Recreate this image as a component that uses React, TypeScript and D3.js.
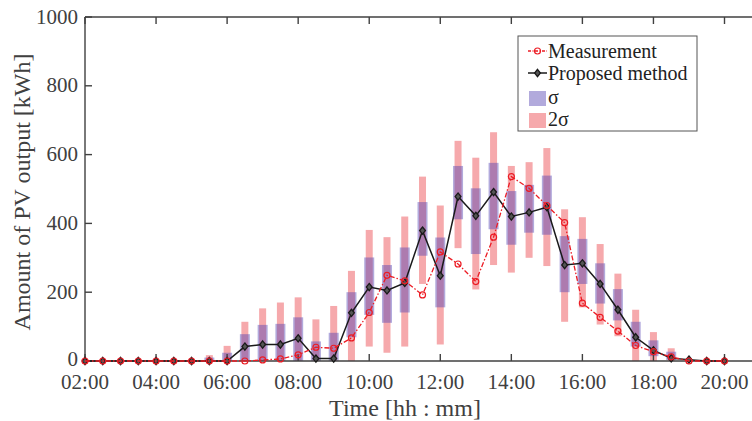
import React from "react";
import * as d3 from "d3";

const times: string[] = [
  "02:00","02:30","03:00","03:30","04:00","04:30","05:00","05:30","06:00","06:30",
  "07:00","07:30","08:00","08:30","09:00","09:30","10:00","10:30","11:00","11:30",
  "12:00","12:30","13:00","13:30","14:00","14:30","15:00","15:30","16:00","16:30",
  "17:00","17:30","18:00","18:30","19:00","19:30","20:00",
];

const measurement: number[] = [
  0,0,0,0,0,0,0,0,0,0,
  3,6,18,40,37,67,141,249,233,192,
  317,282,231,360,536,502,452,402,168,127,
  87,45,27,12,0,0,0,
];

const proposed: number[] = [
  0,0,0,0,0,0,0,0,0,42,
  48,48,66,7,7,140,215,205,227,379,
  248,478,422,491,420,432,447,279,284,224,
  149,69,31,8,4,0,0,
];

const sigmaLow: (number | null)[] = [
  null,null,null,null,null,null,null,0,0,0,
  0,0,0,0,0,69,134,111,141,306,
  156,412,311,383,338,373,367,200,224,167,
  118,42,14,3,null,null,null,
];
const sigmaHigh: (number | null)[] = [
  null,null,null,null,null,null,null,10,24,78,
  105,108,127,57,82,200,301,279,330,462,
  359,567,502,576,494,512,539,363,355,284,
  209,114,60,27,null,null,null,
];
const sigma2Low: (number | null)[] = [
  null,null,null,null,null,null,null,0,0,0,
  0,0,0,0,0,0,42,24,42,224,
  48,328,208,279,257,300,276,114,156,106,
  72,0,0,0,null,null,null,
];
const sigma2High: (number | null)[] = [
  null,null,null,null,null,null,null,17,44,114,
  153,170,185,121,160,262,381,360,420,536,
  452,640,591,665,567,578,619,441,418,340,
  254,149,84,37,null,null,null,
];

const xTickLabels: string[] = ["02:00","04:00","06:00","08:00","10:00","12:00","14:00","16:00","18:00","20:00"];
const yTicks: number[] = [0, 200, 400, 600, 800, 1000];

const toHours = (t: string) => {
  const [h, m] = t.split(":").map(Number);
  return h + m / 60;
};

export default function App() {
  const W = 752, H = 421;
  const x0 = 85, y0 = 17, yb = 361;
  const x = d3.scaleLinear().domain([2, 20]).range([x0, 724.5]);
  const y = d3.scaleLinear().domain([0, 1000]).range([yb, y0]);
  const axisColor = "#404040";
  const red = "#ec1c24";
  const font = "'Liberation Serif', 'Times New Roman', serif";

  const pts = times.map((t, i) => ({ h: toHours(t), m: measurement[i], p: proposed[i] }));
  const line = d3.line<{ h: number; v: number }>().x((d) => x(d.h)).y((d) => y(d.v));
  const mLine = line(pts.map((d) => ({ h: d.h, v: d.m }))) || "";
  const pLine = line(pts.map((d) => ({ h: d.h, v: d.p }))) || "";

  const diamond = (cx: number, cy: number, r: number) =>
    `M${cx},${cy - r}L${cx + r * 0.8},${cy}L${cx},${cy + r}L${cx - r * 0.8},${cy}Z`;

  const wS = 10, w2 = 7;

  return (
    <div>
      <style>{`body{margin:0;background:#fff}`}</style>
      <svg width={W} height={H} style={{ display: "block" }} fontFamily={font}>
        <rect x={0} y={0} width={W} height={H} fill="#fff" />
        {times.map((t, i) =>
          sigma2Low[i] !== null && sigma2High[i] !== null ? (
            <rect key={"s2" + i} x={x(toHours(t)) - w2 / 2} width={w2}
              y={y(sigma2High[i] as number)} height={y(sigma2Low[i] as number) - y(sigma2High[i] as number)}
              fill="#f6a9ac" />
          ) : null
        )}
        {times.map((t, i) =>
          sigmaLow[i] !== null && sigmaHigh[i] !== null ? (
            <rect key={"s1" + i} x={x(toHours(t)) - wS / 2} width={wS}
              y={y(sigmaHigh[i] as number)} height={y(sigmaLow[i] as number) - y(sigmaHigh[i] as number)}
              fill="rgb(88,70,178)" fillOpacity={0.46} />
          ) : null
        )}
        <line x1={x0} x2={W + 5} y1={yb} y2={yb} stroke={axisColor} strokeWidth={1.4} />
        <line x1={x0} x2={W + 5} y1={y0} y2={y0} stroke={axisColor} strokeWidth={1.4} />
        <line x1={x0} x2={x0} y1={y0} y2={yb} stroke={axisColor} strokeWidth={1.4} />
        {xTickLabels.map((t) => {
          const xx = x(toHours(t));
          return (
            <g key={"xt" + t}>
              <line x1={xx} x2={xx} y1={yb} y2={yb - 7} stroke={axisColor} strokeWidth={1.4} />
              <line x1={xx} x2={xx} y1={y0} y2={y0 + 7} stroke={axisColor} strokeWidth={1.4} />
              <text x={xx} y={389} textAnchor="middle" fontSize={21} fill={axisColor}>{t}</text>
            </g>
          );
        })}
        {yTicks.map((v) => (
          <g key={"yt" + v}>
            <line x1={x0} x2={x0 + 7} y1={y(v)} y2={y(v)} stroke={axisColor} strokeWidth={1.4} />
            <text x={78} y={y(v) + (v === 0 ? 4.5 : 6.5)} textAnchor="end" fontSize={21} fill={axisColor}>{v}</text>
          </g>
        ))}
        <text x={405} y={416} textAnchor="middle" fontSize={24} fill={axisColor}>Time [hh : mm]</text>
        <text transform={`translate(30,${(y0 + yb) / 2 + 3}) rotate(-90)`} textAnchor="middle" fontSize={24} fill={axisColor}>
          Amount of PV output [kWh]
        </text>
        <path d={pLine} fill="none" stroke="#1a1a1a" strokeWidth={1.5} />
        {pts.map((d, i) => (
          <path key={"pd" + i} d={diamond(x(d.h), y(d.p), 3.6)} fill="#555" stroke="#1a1a1a" strokeWidth={1.3} />
        ))}
        <path d={mLine} fill="none" stroke={red} strokeWidth={1.3} strokeDasharray="5,2,1.5,2" />
        {pts.map((d, i) => (
          <circle key={"mc" + i} cx={x(d.h)} cy={y(d.m)} r={3} fill="none" stroke={red} strokeWidth={1.2} />
        ))}
        <rect x={518} y={36} width={179} height={95} fill="#fff" stroke="#555" strokeWidth={1} />
        <line x1={528} x2={547} y1={51} y2={51} stroke={red} strokeWidth={1.3} strokeDasharray="3,1.5,1,1.5" />
        <circle cx={537.5} cy={51} r={3} fill="none" stroke={red} strokeWidth={1.2} />
        <text x={548} y={57.5} fontSize={20} fill="#222">Measurement</text>
        <line x1={528} x2={547} y1={73} y2={73} stroke="#1a1a1a" strokeWidth={1.5} />
        <path d={diamond(537.5, 73, 3.6)} fill="#555" stroke="#1a1a1a" strokeWidth={1.3} />
        <text x={548} y={79.5} fontSize={20} fill="#222">Proposed method</text>
        <rect x={529} y={91} width={17} height={15} fill="rgb(88,70,178)" fillOpacity={0.46} />
        <text x={548} y={104} fontSize={20} fill="#222">σ</text>
        <rect x={529} y={113} width={17} height={15} fill="#f6a9ac" />
        <text x={548} y={126} fontSize={20} fill="#222">2σ</text>
      </svg>
    </div>
  );
}
